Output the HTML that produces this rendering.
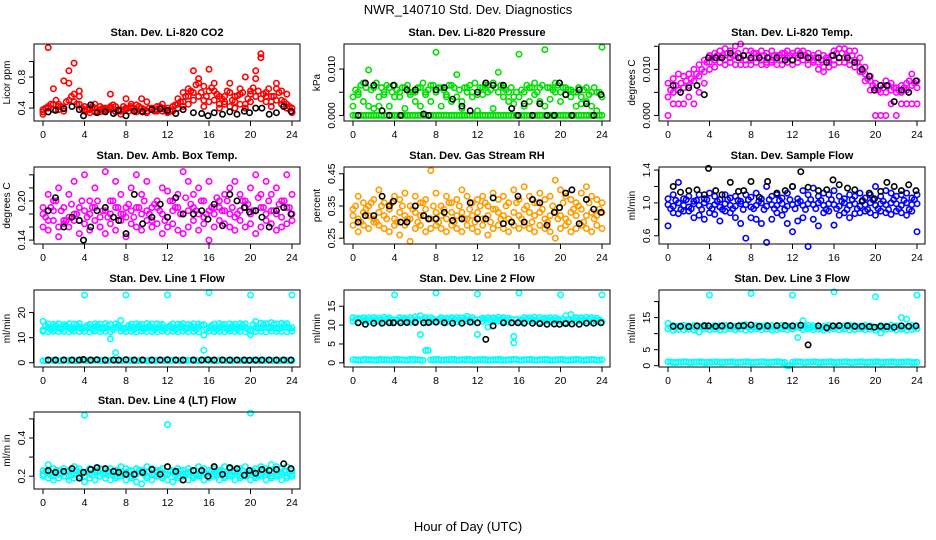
<!DOCTYPE html>
<html><head><meta charset="utf-8"><style>
html,body{margin:0;padding:0;background:#fff;}
svg{display:block;font-family:"Liberation Sans",Arial,sans-serif;}
</style></head><body>
<svg id="chart" width="936" height="540" viewBox="0 0 936 540" xmlns="http://www.w3.org/2000/svg">
<rect x="0" y="0" width="936" height="540" fill="#fff"/>
<text x="468" y="14" font-size="13" text-anchor="middle">NWR_140710  Std. Dev. Diagnostics</text>
<text x="468" y="531" font-size="13" text-anchor="middle">Hour of Day (UTC)</text>
</svg>
<script>
const HOURS=[0,0.5,1,1.5,2,2.5,3,3.5,4,4.5,5,5.5,6,6.5,7,7.5,8,8.5,9,9.5,10,10.5,11,11.5,12,12.5,13,13.5,14,14.5,15,15.5,16,16.5,17,17.5,18,18.5,19,19.5,20,20.5,21,21.5,22,22.5,23,23.5,24];
const HOURS_Q=[0.25,0.75,1.25,1.75,2.25,2.75,3.25,3.75,4.25,4.75,5.25,5.75,6.25,6.75,7.25,7.75,8.25,8.75,9.25,9.75,10.25,10.75,11.25,11.75,12.25,12.75,13.25,13.75,14.25,14.75,15.25,15.75,16.25,16.75,17.25,17.75,18.25,18.75,19.25,19.75,20.25,20.75,21.25,21.75,22.25,22.75,23.25,23.75];
const BLACK_T=[0.5,1.2,2,2.8,3.5,3.9,4.6,5.2,6,6.8,7.3,8,8.8,9.6,10.5,11.3,12,12.8,13.5,14.5,15.3,15.9,16.5,17.3,18,18.7,19.4,19.9,20.5,21.1,21.8,22.5,23.2,23.9];
const X_TICKS=[0,4,8,12,16,20,24];

const co2A=[0.38,0.42,0.65,0.45,0.40,0.72,0.98,0.55,0.42,0.40,0.45,0.38,0.36,0.42,0.35,0.38,0.40,0.45,0.38,0.52,0.36,0.40,0.38,0.45,0.36,0.42,0.52,0.48,0.65,0.88,0.72,0.68,0.90,0.62,0.55,0.48,0.72,0.55,0.65,0.80,0.58,0.88,1.10,0.55,0.48,0.72,0.62,0.58,0.40];
const co2B=[0.35,1.18,0.45,0.38,0.75,0.88,0.48,0.62,0.36,0.38,0.35,0.42,0.40,0.58,0.42,0.36,0.52,0.40,0.44,0.36,0.48,0.38,0.42,0.36,0.40,0.38,0.45,0.60,0.55,0.60,0.78,0.50,0.62,0.72,0.45,0.55,0.60,0.48,0.58,0.45,0.62,0.78,1.05,0.60,0.55,0.65,0.50,0.45,0.35];
const co2C=[0.32,0.40,0.38,0.42,0.36,0.50,0.58,0.45,0.38,0.34,0.40,0.35,0.38,0.40,0.36,0.32,0.38,0.42,0.35,0.40,0.34,0.38,0.36,0.40,0.34,0.36,0.40,0.42,0.45,0.50,0.55,0.42,0.48,0.50,0.40,0.45,0.42,0.40,0.45,0.40,0.48,0.55,0.52,0.48,0.42,0.50,0.45,0.40,0.34];
const co2Q=[0.40,0.45,0.50,0.42,0.48,0.55,0.45,0.40,0.38,0.42,0.36,0.40,0.38,0.44,0.38,0.42,0.36,0.40,0.42,0.38,0.40,0.36,0.42,0.38,0.36,0.44,0.48,0.55,0.62,0.70,0.60,0.55,0.66,0.58,0.52,0.62,0.50,0.56,0.60,0.52,0.66,0.62,0.58,0.65,0.55,0.60,0.48,0.42];
const co2K=[0.35,0.37,0.39,0.42,0.38,0.30,0.44,0.34,0.35,0.33,0.37,0.30,0.36,0.35,0.38,0.39,0.37,0.33,0.38,0.34,0.33,0.30,0.34,0.32,0.35,0.32,0.36,0.34,0.40,0.40,0.32,0.34,0.42,0.36];

const presA=[0,0,0,0,0,0,0,0,0,0,0,0,0,0,0,0,0,0,0,0,0,0,0,0,0,0,0,0,0,0,0,0,0,0,0,0,0,0,0,0,0,0,0,0,0,0,0,0,0];
const presQ0=[0,0,0,0,0,0,0,0,0,0,0,0,0,0,0,0,0,0,0,0,0,0,0,0,0,0,0,0,0,0,0,0,0,0,0,0,0,0,0,0,0,0,0,0,0,0,0,0];
const presB=[0.004,0.005,0.007,0.0098,0.006,0.002,0.005,0.006,0.0065,0.004,0.006,0.005,0.003,0.006,0.0045,0.0065,0.0136,0.006,0.004,0.0065,0.0088,0.003,0.006,0.005,0.0045,0.006,0.0065,0.007,0.0093,0.006,0.005,0.004,0.0132,0.002,0.006,0.007,0.003,0.0142,0.006,0.007,0.005,0.006,0.004,0.005,0.0025,0.006,0.002,0.005,0.0147];
const presC=[0.002,0.0045,0.003,0.002,0.0015,0.004,0.0045,0.002,0.004,0.005,0.0015,0.0045,0.005,0.002,0.005,0.003,0.005,0.002,0.0045,0.003,0.004,0.0015,0.005,0.004,0.001,0.0045,0.005,0.0015,0.005,0.004,0.003,0.0025,0.004,0.005,0.003,0.0045,0.006,0.002,0.0035,0.005,0.003,0.0045,0.0055,0.002,0.004,0.003,0.005,0.001,0.004];
const presQ=[0.0055,0.0065,0.006,0.0055,0.007,0.006,0.0065,0.005,0.0055,0.006,0.0065,0.005,0.006,0.007,0.0055,0.0065,0.006,0.0055,0.0065,0.006,0.0055,0.006,0.0065,0.007,0.006,0.0065,0.0055,0.006,0.0065,0.0055,0.006,0.005,0.0055,0.0065,0.006,0.005,0.0065,0.006,0.0055,0.0065,0.006,0.0055,0.005,0.006,0.0055,0.0045,0.006,0.005];
const presK=[0,0.007,0.0065,0.001,0,0.0065,0,0.0055,0.0055,0.0003,0,0.0055,0.006,0.0035,0.002,0.001,0.005,0.007,0.0065,0.0065,0.0015,0,0.0025,0,0.0025,0,0,0.007,0.0045,0,0.0055,0.0025,0,0.0045];

const tempA=[0.007,0.008,0.009,0.0085,0.009,0.010,0.011,0.012,0.013,0.0135,0.014,0.0145,0.014,0.015,0.0155,0.014,0.014,0.0135,0.014,0.0135,0.014,0.013,0.0135,0.014,0.0135,0.014,0.014,0.0135,0.013,0.0135,0.013,0.012,0.014,0.0145,0.0145,0.014,0.014,0.0125,0.0105,0.0085,0.007,0.0065,0.0075,0.007,0.006,0.0065,0.007,0.009,0.0075];
const tempB=[0.004,0.005,0.0055,0.006,0.0065,0.0075,0.0085,0.0095,0.0115,0.012,0.0125,0.012,0.0125,0.013,0.0125,0.012,0.012,0.0125,0.012,0.0115,0.012,0.0125,0.012,0.0125,0.012,0.0125,0.013,0.0125,0.012,0.0115,0.0105,0.0115,0.012,0.0125,0.0125,0.012,0.012,0.0105,0.009,0.0075,0.006,0.005,0.005,0.0055,0.005,0.005,0.0055,0.0065,0.006];
const tempC=[0,0.0025,0.0025,0.0025,0.004,0.0025,0.005,0.007,0.010,0.0105,0.0115,0.011,0.0115,0.011,0.011,0.011,0.011,0.0115,0.011,0.011,0.0115,0.011,0.011,0.0115,0.011,0.0115,0.012,0.011,0.0115,0.010,0.0095,0.0105,0.011,0.0115,0.0115,0.011,0.0105,0.0095,0.0075,0.0055,0,0,0,0.0025,0,0.0025,0.0025,0.0025,0.0025];
const tempQ=[0.0055,0.0065,0.007,0.0075,0.008,0.009,0.010,0.0115,0.0125,0.013,0.013,0.0135,0.013,0.0135,0.013,0.013,0.0135,0.013,0.013,0.0125,0.013,0.013,0.0135,0.013,0.013,0.0135,0.013,0.0125,0.0125,0.012,0.0125,0.013,0.0135,0.0135,0.013,0.013,0.0115,0.0095,0.008,0.0065,0.0055,0.006,0.0065,0.006,0.0055,0.006,0.0075,0.007];
const tempK=[0.0065,0.005,0.006,0.0065,0.0045,0.0125,0.0125,0.0125,0.0135,0.0125,0.013,0.0125,0.0125,0.0125,0.0125,0.012,0.012,0.013,0.0125,0.0125,0.0115,0.013,0.0125,0.0125,0.0115,0.010,0.0085,0.0055,0.0065,0.0065,0.003,0.0055,0.005,0.0075];

const ambA=[0.19,0.21,0.20,0.22,0.17,0.21,0.23,0.19,0.24,0.20,0.22,0.16,0.245,0.20,0.23,0.21,0.19,0.22,0.24,0.21,0.23,0.19,0.20,0.22,0.215,0.20,0.21,0.245,0.23,0.21,0.22,0.20,0.23,0.19,0.20,0.21,0.22,0.23,0.21,0.20,0.22,0.24,0.21,0.23,0.21,0.22,0.20,0.24,0.21];
const ambB=[0.18,0.17,0.185,0.16,0.19,0.175,0.18,0.17,0.185,0.18,0.19,0.175,0.185,0.18,0.19,0.18,0.175,0.185,0.19,0.18,0.185,0.17,0.19,0.18,0.175,0.185,0.19,0.18,0.185,0.19,0.18,0.175,0.185,0.18,0.19,0.185,0.18,0.175,0.185,0.19,0.18,0.185,0.19,0.18,0.185,0.18,0.175,0.19,0.18];
const ambC=[0.16,0.155,0.17,0.145,0.165,0.16,0.17,0.15,0.165,0.155,0.17,0.16,0.15,0.165,0.155,0.17,0.145,0.165,0.16,0.155,0.17,0.16,0.165,0.15,0.16,0.165,0.155,0.15,0.16,0.17,0.155,0.165,0.14,0.16,0.17,0.165,0.16,0.155,0.17,0.16,0.165,0.15,0.16,0.17,0.165,0.155,0.16,0.165,0.17];
const ambQ=[0.175,0.19,0.2,0.185,0.17,0.195,0.18,0.2,0.175,0.19,0.2,0.185,0.175,0.2,0.19,0.18,0.195,0.175,0.19,0.2,0.18,0.195,0.185,0.17,0.2,0.19,0.18,0.205,0.195,0.185,0.2,0.18,0.19,0.205,0.185,0.2,0.19,0.18,0.2,0.195,0.185,0.205,0.19,0.2,0.185,0.195,0.2,0.19];
const ambK=[0.185,0.205,0.16,0.175,0.17,0.14,0.16,0.185,0.19,0.175,0.17,0.15,0.21,0.165,0.175,0.195,0.175,0.205,0.18,0.18,0.185,0.172,0.195,0.162,0.21,0.2,0.19,0.183,0.185,0.175,0.16,0.185,0.19,0.18];

const rhA=[0.34,0.38,0.36,0.35,0.37,0.40,0.36,0.34,0.38,0.37,0.39,0.35,0.38,0.36,0.37,0.46,0.39,0.35,0.38,0.36,0.37,0.40,0.38,0.36,0.37,0.38,0.35,0.39,0.37,0.38,0.36,0.40,0.37,0.41,0.38,0.36,0.39,0.37,0.38,0.43,0.40,0.38,0.37,0.36,0.39,0.41,0.38,0.37,0.36];
const rhB=[0.32,0.31,0.33,0.32,0.31,0.33,0.32,0.34,0.31,0.33,0.32,0.31,0.33,0.32,0.34,0.31,0.33,0.32,0.31,0.33,0.32,0.33,0.31,0.32,0.33,0.31,0.32,0.34,0.33,0.32,0.31,0.33,0.32,0.34,0.33,0.32,0.33,0.31,0.32,0.33,0.32,0.31,0.33,0.32,0.34,0.32,0.33,0.32,0.33];
const rhC=[0.29,0.27,0.29,0.28,0.30,0.29,0.28,0.27,0.29,0.26,0.29,0.24,0.28,0.29,0.27,0.28,0.29,0.28,0.27,0.29,0.28,0.27,0.29,0.28,0.27,0.29,0.26,0.28,0.29,0.28,0.27,0.29,0.28,0.29,0.28,0.27,0.29,0.28,0.27,0.25,0.28,0.29,0.27,0.28,0.29,0.28,0.27,0.29,0.28];
const rhQ=[0.35,0.30,0.34,0.36,0.30,0.35,0.31,0.36,0.30,0.35,0.31,0.34,0.30,0.36,0.31,0.35,0.30,0.34,0.36,0.30,0.35,0.31,0.34,0.30,0.35,0.36,0.30,0.34,0.31,0.35,0.30,0.36,0.31,0.35,0.30,0.36,0.34,0.30,0.35,0.31,0.36,0.30,0.34,0.35,0.30,0.36,0.31,0.34];
const rhK=[0.30,0.32,0.32,0.38,0.35,0.365,0.30,0.30,0.35,0.32,0.31,0.31,0.33,0.305,0.31,0.36,0.31,0.31,0.375,0.295,0.30,0.38,0.30,0.37,0.36,0.29,0.33,0.345,0.39,0.40,0.295,0.37,0.34,0.33];

const flowA=[1.05,1.1,1.25,1.05,1.08,1.02,1.1,1.05,1.12,1.08,1.04,1.1,1.06,1.08,1.02,1.1,1.07,1.12,1.05,1.2,1.08,1.1,1.06,1.12,1.2,1.05,1.15,1.1,1.18,1.08,1.12,1.1,1.15,1.08,1.05,1.1,1.08,1.12,1.06,1.1,1.2,1.08,1.15,1.12,1.08,1.1,1.12,1.06,1.1];
const flowB=[0.98,0.96,1.0,0.97,0.95,0.99,0.97,1.0,0.96,0.98,0.95,0.99,0.97,0.96,0.99,0.98,0.95,0.97,1.0,0.96,0.98,0.97,0.99,0.96,0.98,1.0,0.97,0.99,0.98,1.0,0.97,0.99,0.98,0.96,1.0,0.97,0.99,0.96,0.98,1.0,0.97,0.99,0.98,1.0,0.99,0.97,1.0,0.98,0.99];
const flowC=[0.72,0.88,0.87,0.9,0.9,0.82,0.85,0.8,0.88,0.86,0.78,0.9,0.88,0.82,0.75,0.57,0.82,0.8,0.75,0.52,0.8,0.88,0.85,0.75,0.65,0.78,0.82,0.47,0.8,0.72,0.88,0.9,0.73,0.85,0.88,0.82,0.87,0.88,0.9,0.88,0.85,0.9,0.88,0.86,0.9,0.88,0.85,0.9,0.65];
const flowQ=[0.93,1.03,0.92,1.04,0.93,1.03,0.92,1.04,0.93,1.02,0.92,1.04,0.93,1.03,0.92,1.04,0.93,1.02,0.92,1.04,0.93,1.03,0.92,1.04,0.93,1.02,0.92,1.04,0.93,1.03,0.92,1.04,0.93,1.02,0.92,1.04,0.93,1.03,0.92,1.04,0.93,1.02,0.92,1.04,0.93,1.03,0.92,1.04];
const flowK=[1.2,1.13,1.15,1.16,1.1,1.42,1.15,1.1,1.25,1.14,1.15,1.26,1.07,1.26,1.12,1.15,1.2,1.38,1.19,1.15,1.16,1.28,1.22,1.18,1.16,1.02,1.12,1.05,1.14,1.25,1.2,1.15,1.22,1.15];

const l1A=[16.5,15.5,15.3,15.5,15.2,15.5,15.4,15.6,27,15.3,15.5,15.4,15.6,15.3,15.5,16.8,27,15.4,15.5,15.3,15.6,15.4,15.5,15.3,27,15.5,15.4,15.6,15.3,15.5,15.4,15.2,28,15.4,15.6,15.3,15.5,15.4,15.6,15.5,27,16.5,15.8,15.6,16,15.5,15.8,15.6,27];
const l1B=[13,14,14,13.8,14.2,14,13.9,14.1,14,13.8,14.2,14,13.9,9.5,14.1,14,13.8,14.2,14,13.9,14,14.1,13.8,14,14.2,13.9,14,14.1,13.8,14,14.2,11,14,13.9,14.1,14,13.8,14,14.2,14,11.2,14,13.9,14.1,14,13.8,14,14.1,14];
const l1C=[12.5,12.3,12.6,12.4,12.5,12.3,12.6,12.4,12.5,12.3,12.6,12.4,12.5,12.3,4,12.6,12.4,12.5,12.3,12.6,12.4,12.5,12.3,12.6,12.4,12.5,12.3,12.6,12.4,12.5,12.3,5,12.6,12.4,12.5,12.3,12.6,12.4,12.5,12.3,12.6,12.4,12.5,12.3,12.6,12.4,12.5,12.3,12.6];
const l1D=[0.8,1,0.9,0.8,1,0.9,0.8,1,0.9,0.8,1,0.9,0.8,1,0.9,0.8,1,0.9,0.8,1,0.9,0.8,1,0.9,0.8,1,0.9,0.8,1,0.9,0.8,1,0.9,0.8,1,0.9,0.8,1,0.9,0.8,1,0.9,0.8,1,0.9,0.8,1,0.9,0.8];
const l1Q=[14.8,13.2,15,13.4,14.8,13.2,15,13.4,14.8,13.2,15,13.4,14.8,13.2,15,13.4,14.8,13.2,15,13.4,14.8,13.2,15,13.4,14.8,13.2,15,13.4,14.8,13.2,15,13.4,14.8,13.2,15,13.4,14.8,13.2,15,13.4,15.2,13.6,15.2,13.6,15.2,13.6,15.2,13.6];
const l1K=[1.1,1.1,1.1,1.1,1.1,1.3,1.1,1.2,1.1,1.1,1.1,1.2,1.1,1.1,1.1,1.1,1.2,1.1,1.1,1.1,1.1,1.2,1.1,1.1,1.1,1.1,1.1,1.0,1.1,1.1,1.1,1.1,1.1,1.1];

const l2A=[12,11.8,12,11.9,12,11.8,12.1,11.9,18,12,11.8,12,12.2,12.5,12,11.9,18.5,12,11.8,12,12,11.9,12.3,12,18.2,11.8,12,11.9,12.1,12,11.8,7,18.5,12,11.9,12.1,12,11.8,12,11.9,18,12.5,12.8,12,11.9,12.1,12,11.8,18];
const l2B=[11,10.8,11,10.9,11.1,11,10.8,11,10.9,11.1,11,10.8,11,7.5,11,10.9,11.1,11,10.8,11,10.9,11.1,11,10.8,7.5,11,9.5,10.9,11.1,11,10.8,5.3,11,10.9,11.1,11,10.8,11,10.9,11.1,11,10.8,11,10.9,11.1,11,10.8,11,10.9];
const l2C=[0.8,0.7,0.9,0.8,0.7,0.9,0.8,0.7,0.9,0.8,0.7,0.9,0.8,0.7,3.3,0.8,0.9,0.7,0.8,0.9,0.7,0.8,0.9,0.7,0.8,0.9,0.7,0.8,0.9,0.7,0.8,0.9,0.7,0.8,0.9,0.7,0.8,0.9,0.7,0.8,0.9,0.7,0.8,0.9,0.7,0.8,0.9,0.7,0.8];
const l2Q=[11.5,11.6,11.4,11.6,11.5,11.4,11.6,11.5,11.4,11.6,11.5,11.4,11.6,11.5,11.4,11.6,11.5,11.4,11.6,11.5,11.4,11.6,11.5,11.4,11.6,11.5,11.4,11.6,11.5,11.4,11.6,11.5,11.4,11.6,11.5,11.4,11.6,11.5,11.4,11.6,11.5,11.4,11.6,11.5,11.4,11.6,11.5,11.4];
const l2K=[10.6,10.2,10.5,10.5,10.6,10.6,10.6,10.7,10.7,10.6,10.7,10.8,10.6,10.5,10.5,10.8,10.6,6.2,9.8,10.6,10.6,10.6,10.5,10.5,10.4,10.2,10.3,10.2,10.4,10.3,10.2,10.5,10.5,10.6];

const l3A=[13.2,12.5,12.3,12.6,12.4,12.5,12.3,12.6,22,12.5,12.4,12.6,12.5,12.3,12.6,12.8,22.5,12.5,12.4,12.6,12.5,12.3,12.6,12.4,22,12.5,14,12.6,12.4,12.5,12.3,12.6,23,12.5,12.4,12.6,12.5,12.3,12.6,12.4,21.5,12.5,12.3,12.6,12.4,15,14.5,12.6,22];
const l3B=[11.5,11,11.3,11.2,11.4,11.1,10.5,11.5,11.2,11.4,11.1,11.3,11.5,11.2,11.4,11.1,11.3,11.5,11.2,11.4,11.1,11.3,11.5,11.2,11.4,8.8,11.3,11.5,11.2,11.4,11.1,11.3,11.5,11.2,11.4,11.1,11.3,11.5,11.2,11.4,11.1,10.2,11.3,11.5,11.2,11.4,11.1,11.3,11.5];
const l3C=[1.2,1,1.1,1.2,1,1.1,1.2,1,1.1,1.2,1,1.1,1.2,1,1.1,1.2,1,1.1,1.2,1,1.1,1.2,1,0,1.1,1.2,1,1.1,1.2,1,1.1,1.2,1,1.1,1.2,1,1.1,1.2,1,1.1,1.2,1,1.1,1.2,1,1.1,1.2,1,1.1];
const l3Q=[12,11.8,12.1,11.9,12,11.8,12.1,11.9,12,11.8,12.1,11.9,12,11.8,12.1,11.9,12,11.8,12.1,11.9,12,11.8,12.1,11.9,12,11.8,12.1,11.9,12,11.8,12.1,11.9,12,11.8,12.1,11.9,12,11.8,12.1,11.9,12,11.8,12.1,11.9,12,11.8,12.1,11.9];
const l3K=[12.3,12.3,12.2,12.4,12.4,12.4,12.3,12.4,12.5,12.4,12.5,12.7,12.3,12.4,12.5,12.5,12.4,12.6,6.5,12.4,11.8,12.4,12.5,12.5,12.3,12.3,12.2,12.0,12.3,12.2,12.0,12.4,12.3,12.4];

const l4A=[0.23,0.26,0.24,0.23,0.24,0.23,0.25,0.24,0.52,0.24,0.23,0.24,0.23,0.24,0.23,0.25,0.24,0.23,0.24,0.23,0.25,0.24,0.23,0.24,0.47,0.23,0.24,0.23,0.24,0.23,0.25,0.24,0.23,0.24,0.23,0.25,0.24,0.23,0.24,0.25,0.53,0.24,0.25,0.24,0.26,0.25,0.24,0.25,0.23];
const l4B=[0.21,0.22,0.2,0.21,0.22,0.2,0.21,0.22,0.2,0.21,0.22,0.2,0.21,0.22,0.2,0.21,0.22,0.2,0.21,0.22,0.2,0.21,0.22,0.2,0.21,0.22,0.2,0.21,0.22,0.2,0.21,0.22,0.2,0.21,0.22,0.2,0.21,0.22,0.2,0.21,0.22,0.2,0.21,0.22,0.2,0.21,0.22,0.2,0.21];
const l4C=[0.2,0.19,0.18,0.19,0.2,0.18,0.19,0.2,0.17,0.19,0.18,0.2,0.19,0.18,0.19,0.2,0.18,0.19,0.17,0.16,0.19,0.18,0.2,0.19,0.18,0.17,0.19,0.2,0.18,0.19,0.2,0.18,0.19,0.2,0.18,0.19,0.2,0.18,0.19,0.2,0.18,0.19,0.2,0.18,0.19,0.2,0.18,0.19,0.2];
const l4Q=[0.225,0.205,0.23,0.21,0.225,0.205,0.23,0.21,0.225,0.205,0.23,0.21,0.225,0.205,0.23,0.21,0.225,0.205,0.23,0.21,0.225,0.205,0.23,0.21,0.225,0.205,0.23,0.21,0.225,0.205,0.23,0.21,0.225,0.205,0.23,0.21,0.225,0.205,0.23,0.21,0.225,0.205,0.23,0.21,0.225,0.205,0.23,0.21];
const l4K=[0.23,0.22,0.225,0.24,0.19,0.22,0.235,0.245,0.24,0.225,0.22,0.21,0.21,0.22,0.235,0.21,0.25,0.225,0.18,0.23,0.23,0.2,0.25,0.21,0.245,0.24,0.205,0.23,0.215,0.235,0.23,0.235,0.265,0.24];

const panels=[
 {name:"co2",title:"Stan. Dev. Li-820 CO2",col:0,row:0,ymin:0.233,ymax:1.226,ticks:[0.4,0.6,0.8,1.0],labels:["0.4","","0.8",""],ylab:"Licor ppm",color:"#ff0000",series:[co2C,co2A,co2B],quarter:[co2Q],black:co2K},
 {name:"pressure",title:"Stan. Dev. Li-820 Pressure",col:1,row:0,ymin:-0.0012,ymax:0.0154,ticks:[0,0.005,0.010],labels:["0.000","","0.010"],ylab:"kPa",color:"#00e000",series:[presA,presC,presB],quarter:[presQ0,presQ],black:presK},
 {name:"temp",title:"Stan. Dev. Li-820 Temp.",col:2,row:0,ymin:-0.0012,ymax:0.0155,ticks:[0,0.005,0.010,0.015],labels:["0.000","","0.010",""],ylab:"degrees C",color:"#ff00ff",series:[tempC,tempB,tempA],quarter:[tempQ],black:tempK},
 {name:"amb-box-temp",title:"Stan. Dev. Amb. Box Temp.",col:0,row:1,ymin:0.134,ymax:0.252,ticks:[0.14,0.16,0.18,0.20,0.22,0.24],labels:["0.14","","","0.20","",""],ylab:"degrees C",color:"#ff00ff",series:[ambC,ambB,ambA],quarter:[ambQ],black:ambK},
 {name:"gas-rh",title:"Stan. Dev. Gas Stream RH",col:1,row:1,ymin:0.232,ymax:0.471,ticks:[0.25,0.30,0.35,0.40,0.45],labels:["0.25","","0.35","","0.45"],ylab:"percent",color:"#ff9c00",series:[rhC,rhB,rhA],quarter:[rhQ],black:rhK},
 {name:"sample-flow",title:"Stan. Dev. Sample Flow",col:2,row:1,ymin:0.50,ymax:1.437,ticks:[0.6,0.8,1.0,1.2,1.4],labels:["0.6","","1.0","","1.4"],ylab:"ml/min",color:"#0000ff",series:[flowC,flowB,flowA],quarter:[flowQ],black:flowK},
 {name:"line1-flow",title:"Stan. Dev. Line 1 Flow",col:0,row:2,ymin:-1.7,ymax:29,ticks:[0,10,20],labels:["0","10","20"],ylab:"ml/min",color:"#00ffff",series:[l1D,l1C,l1B,l1A],quarter:[l1Q,l1D],black:l1K},
 {name:"line2-flow",title:"Stan. Dev. Line 2 Flow",col:1,row:2,ymin:-1.1,ymax:19.3,ticks:[0,5,10,15],labels:["0","5","10","15"],ylab:"ml/min",color:"#00ffff",series:[l2C,l2B,l2A],quarter:[l2Q,l2C],black:l2K},
 {name:"line3-flow",title:"Stan. Dev. Line 3 Flow",col:2,row:2,ymin:-0.4,ymax:23.6,ticks:[0,5,10,15,20],labels:["0","5","","15",""],ylab:"ml/min",color:"#00ffff",series:[l3C,l3B,l3A],quarter:[l3Q,l3C],black:l3K},
 {name:"line4-flow",title:"Stan. Dev. Line 4 (LT) Flow",col:0,row:3,ymin:0.133,ymax:0.536,ticks:[0.2,0.3,0.4,0.5],labels:["0.2","","0.4",""],ylab:"ml/m in",color:"#00ffff",series:[l4C,l4B,l4A],quarter:[l4Q],black:l4K}
];

const COL_LEFT=[34,344,659], ROW_TOP=[44,167,290,412], PW=266, PH=77;
const svg=document.getElementById('chart');
const NS="http://www.w3.org/2000/svg";
function mk(tag,attrs,parent){const e=document.createElementNS(NS,tag);for(const k in attrs)e.setAttribute(k,attrs[k]);parent.appendChild(e);return e;}

panels.forEach(p=>{
  const L=COL_LEFT[p.col], T=ROW_TOP[p.row], B=T+PH;
  const xs=h=>L+9+h*(249/24);
  const ys=v=>B-(v-p.ymin)/(p.ymax-p.ymin)*PH;
  const g=mk('g',{},svg);
  
  
  const t=mk('text',{x:L+PW/2,y:T-8,'font-size':11,'font-weight':'bold','text-anchor':'middle'},g);
  t.textContent=p.title;
  
  
  const pts=mk('g',{fill:'none','stroke-width':1.6},g);
  
  
  const drawSet=(arr,times)=>{
    arr.forEach((v,i)=>{
      if(i>=times.length)return;
      const c=mk('circle',{cx:xs(times[i]).toFixed(1),cy:ys(v).toFixed(1),r:2.7,stroke:p.color},pts);
      
      
    });
  };
  p.series.forEach(arr=>drawSet(arr,HOURS));
  (p.quarter||[]).forEach(arr=>drawSet(arr,HOURS_Q));
  p.black.forEach((v,i)=>{
    if(i>=BLACK_T.length)return;
    const c=mk('circle',{cx:xs(BLACK_T[i]).toFixed(1),cy:ys(v).toFixed(1),r:2.7,stroke:'#000'},pts);
    
    
  });
  const box=mk('rect',{x:L,y:T,width:PW,height:PH,fill:'none',stroke:'#000','stroke-width':1},g);
  
  
  const xa=mk('g',{stroke:'#000','stroke-width':1},g);
  
  
  X_TICKS.forEach(h=>{
    mk('line',{x1:xs(h),x2:xs(h),y1:B,y2:B+5},xa);
    const tx=mk('text',{x:xs(h),y:B+17,'font-size':10.5,'text-anchor':'middle',stroke:'none'},xa);
    tx.textContent=String(h);
  });
  const ya=mk('g',{stroke:'#000','stroke-width':1},g);
  
  
  mk('line',{x1:L-0.5,x2:L-0.5,y1:ys(p.ticks[0]),y2:ys(p.ticks[p.ticks.length-1])},ya);
  p.ticks.forEach((v,i)=>{
    const y=ys(v);
    mk('line',{x1:L-5,x2:L,y1:y,y2:y},ya);
    if(p.labels[i]){
      const tx=mk('text',{x:0,y:0,'font-size':10.5,'text-anchor':'middle',stroke:'none',transform:`translate(${L-9},${y}) rotate(-90)`},ya);
      tx.textContent=p.labels[i];
    }
  });
  const yl=mk('text',{x:0,y:0,'font-size':10,'text-anchor':'middle',transform:`translate(${L-24},${T+PH/2}) rotate(-90)`},g);
  yl.textContent=p.ylab;
  
  
});
</script>
</body></html>
